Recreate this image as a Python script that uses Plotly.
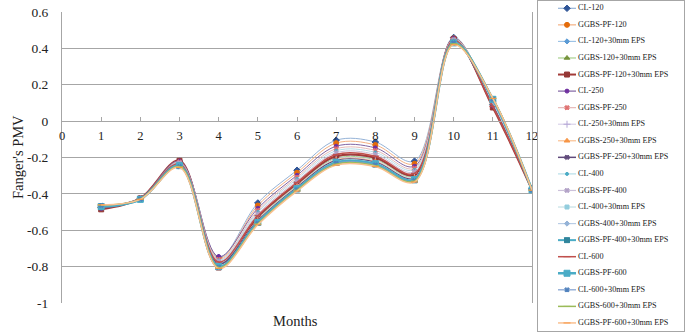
import plotly.graph_objects as go

months = [1, 2, 3, 4, 5, 6, 7, 8, 9, 10, 11, 12]

series_names = [
    "CL-120", "GGBS-PF-120", "CL-120+30mm EPS", "GGBS-120+30mm EPS", "GGBS-PF-120+30mm EPS",
    "CL-250", "GGBS-PF-250", "CL-250+30mm EPS", "GGBS-250+30mm EPS", "GGBS-PF-250+30mm EPS",
    "CL-400", "GGBS-PF-400", "CL-400+30mm EPS", "GGBS-400+30mm EPS", "GGBS-PF-400+30mm EPS",
    "CL-600", "GGBS-PF-600", "CL-600+30mm EPS", "GGBS-600+30mm EPS", "GGBS-PF-600+30mm EPS",
]

cl_120 =            [-0.475, -0.425, -0.220, -0.750, -0.450, -0.270, -0.105, -0.115, -0.220, 0.460, 0.090, -0.370]
ggbs_pf_120 =       [-0.470, -0.424, -0.225, -0.755, -0.464, -0.284, -0.121, -0.131, -0.234, 0.455, 0.100, -0.372]
cl_120_eps =        [-0.470, -0.426, -0.235, -0.780, -0.532, -0.348, -0.198, -0.207, -0.298, 0.445, 0.095, -0.374]
ggbs_120_eps =      [-0.468, -0.427, -0.240, -0.785, -0.536, -0.353, -0.204, -0.212, -0.303, 0.440, 0.100, -0.375]
ggbs_pf_120_eps =   [-0.485, -0.425, -0.218, -0.805, -0.527, -0.344, -0.193, -0.201, -0.294, 0.450, 0.075, -0.378]
cl_250 =            [-0.480, -0.423, -0.220, -0.745, -0.479, -0.298, -0.138, -0.147, -0.248, 0.455, 0.085, -0.372]
ggbs_pf_250 =       [-0.472, -0.425, -0.225, -0.760, -0.491, -0.309, -0.152, -0.161, -0.259, 0.450, 0.095, -0.373]
cl_250_eps =        [-0.470, -0.427, -0.240, -0.788, -0.541, -0.357, -0.209, -0.218, -0.307, 0.440, 0.105, -0.375]
ggbs_250_eps =      [-0.468, -0.428, -0.240, -0.790, -0.545, -0.361, -0.213, -0.222, -0.311, 0.440, 0.110, -0.376]
ggbs_pf_250_eps =   [-0.478, -0.426, -0.232, -0.785, -0.548, -0.364, -0.217, -0.226, -0.314, 0.435, 0.090, -0.376]
cl_400 =            [-0.470, -0.425, -0.230, -0.765, -0.500, -0.318, -0.163, -0.172, -0.268, 0.450, 0.100, -0.373]
ggbs_pf_400 =       [-0.468, -0.426, -0.230, -0.770, -0.510, -0.328, -0.174, -0.183, -0.278, 0.445, 0.105, -0.374]
cl_400_eps =        [-0.466, -0.428, -0.245, -0.795, -0.552, -0.368, -0.221, -0.230, -0.318, 0.435, 0.115, -0.377]
ggbs_400_eps =      [-0.466, -0.428, -0.245, -0.795, -0.554, -0.370, -0.224, -0.232, -0.320, 0.430, 0.115, -0.377]
ggbs_pf_400_eps =   [-0.468, -0.430, -0.245, -0.800, -0.559, -0.375, -0.230, -0.238, -0.325, 0.430, 0.120, -0.378]
cl_600 =            [-0.475, -0.424, -0.235, -0.775, -0.520, -0.337, -0.184, -0.193, -0.287, 0.445, 0.080, -0.376]
ggbs_pf_600 =       [-0.470, -0.430, -0.245, -0.800, -0.557, -0.372, -0.227, -0.235, -0.322, 0.430, 0.120, -0.378]
cl_600_eps =        [-0.464, -0.429, -0.250, -0.803, -0.562, -0.377, -0.232, -0.241, -0.327, 0.430, 0.120, -0.379]
ggbs_600_eps =      [-0.462, -0.429, -0.250, -0.805, -0.565, -0.380, -0.237, -0.245, -0.330, 0.425, 0.125, -0.379]
ggbs_pf_600_eps =   [-0.460, -0.430, -0.255, -0.810, -0.570, -0.385, -0.242, -0.250, -0.335, 0.420, 0.125, -0.380]

series_values = [
    cl_120, ggbs_pf_120, cl_120_eps, ggbs_120_eps, ggbs_pf_120_eps,
    cl_250, ggbs_pf_250, cl_250_eps, ggbs_250_eps, ggbs_pf_250_eps,
    cl_400, ggbs_pf_400, cl_400_eps, ggbs_400_eps, ggbs_pf_400_eps,
    cl_600, ggbs_pf_600, cl_600_eps, ggbs_600_eps, ggbs_pf_600_eps,
]

y_ticks = [-1, -0.8, -0.6, -0.4, -0.2, 0, 0.2, 0.4, 0.6]
y_tick_labels = ["-1", "-0.8", "-0.6", "-0.4", "-0.2", "0", "0.2", "0.4", "0.6"]
x_ticks = [0, 1, 2, 3, 4, 5, 6, 7, 8, 9, 10, 11, 12]

# style: (line colour, line width, marker colour, symbol, marker size)
styles = [
    ("#95B3D7", 1.0, "#2F5597", "diamond", 5),
    ("#F4B183", 1.0, "#E46C0A", "circle", 5),
    ("#9DC3E6", 1.0, "#5B9BD5", "diamond", 4),
    ("#A9D18E", 1.0, "#77933C", "triangle-up", 5),
    ("#A33B38", 2.0, "#953735", "square", 5),
    ("#8064A2", 1.0, "#7030A0", "circle", 4),
    ("#E6B9B8", 1.0, "#E07070", "x", 4),
    ("#D9D2E9", 1.0, "#B4A7D6", "cross-thin-open", 5),
    ("#FAC090", 1.0, "#F79646", "triangle-up", 5),
    ("#604A7B", 1.5, "#604A7B", "x", 4),
    ("#B7DEE8", 1.0, "#4BACC6", "circle", 3),
    ("#CCC1DA", 1.0, "#B2A1C7", "x", 4),
    ("#C5E0E6", 1.0, "#93CDDD", "square-x", 4),
    ("#B9CDE5", 1.0, "#95B3D7", "diamond", 4),
    ("#4BACC6", 2.0, "#31859C", "square-x", 5),
    ("#C0504D", 1.5, "#C0504D", "line-ew-open", 5),
    ("#4BACC6", 2.5, "#4BACC6", "square", 6),
    ("#7F9FD0", 1.0, "#4F81BD", "x", 4),
    ("#9BBB59", 1.5, "#9BBB59", "line-ew-open", 5),
    ("#FAC090", 1.5, "#F79646", "line-ew-open", 5),
]

W, H = 685, 333
L = 62                       # paper starts at x=62 px
PW = W - L - 1               # paper width in px
serif = "Liberation Serif, Times New Roman, serif"
grid = "#A6A6A6"
txt = "#222222"

def px_x(p):  # pixel x -> paper fraction
    return (p - L) / PW

def px_y(p):  # pixel y (from top) -> paper fraction
    return (H - p) / H

# main plot area: x 62..532, y 12..303
main_x0, main_x1 = px_x(62), px_x(532)
main_y0, main_y1 = px_y(303), px_y(12)
yr = (-1.0, 0.6)
zero_pos = main_y0 + (0 - yr[0]) / (yr[1] - yr[0]) * (main_y1 - main_y0)

fig = go.Figure()
for name, vals, st in zip(series_names, series_values, styles):
    lc, lw, mc, sym, ms = st
    fig.add_trace(go.Scatter(
        x=months, y=vals, name=name, mode="lines+markers", showlegend=False,
        line=dict(color=lc, width=lw, shape="spline", smoothing=1.0),
        marker=dict(color=mc, symbol=sym, size=ms, line=dict(color=mc, width=1)),
        xaxis="x", yaxis="y",
    ))

# legend drawn in its own small axes (one row per series, in order)
leg_line_x = [20, 38]
leg_mark_x = 29
leg_text_x = 40
rows = list(range(len(series_names)))
for i, (name, st) in enumerate(zip(series_names, styles)):
    lc, lw, mc, sym, ms = st
    fig.add_trace(go.Scatter(
        x=leg_line_x, y=[rows[i], rows[i]], mode="lines", showlegend=False, hoverinfo="skip",
        line=dict(color=lc, width=max(lw, 1.2)), xaxis="x2", yaxis="y2",
    ))
    fig.add_trace(go.Scatter(
        x=[leg_mark_x], y=[rows[i]], mode="markers", showlegend=False, hoverinfo="skip",
        marker=dict(color=mc, symbol=sym, size=ms, line=dict(color=mc, width=1)),
        xaxis="x2", yaxis="y2",
    ))
fig.add_trace(go.Scatter(
    x=[leg_text_x] * len(series_names), y=rows, text=series_names, mode="text",
    textposition="middle right", showlegend=False, hoverinfo="skip", cliponaxis=False,
    textfont=dict(family=serif, size=8.2, color=txt), xaxis="x2", yaxis="y2",
))

# legend rows: first centre at 8.3 px, spacing 16.56 px; box from y=1 to y=331
row0, rowh, box_top, box_bot = 8.3, 16.56, 1, 331
fig.update_layout(
    width=W, height=H,
    margin=dict(l=L, r=1, t=0, b=0, autoexpand=False),
    paper_bgcolor="white", plot_bgcolor="white",
    font=dict(family=serif, color=txt),
    showlegend=False,
    xaxis=dict(
        domain=[main_x0, main_x1],
        range=[0, 12], tickvals=x_ticks, ticktext=[str(v) for v in x_ticks],
        anchor="free", position=zero_pos,
        showgrid=False, zeroline=False,
        showline=True, linecolor=grid, linewidth=1,
        ticks="inside", ticklen=4, tickcolor=grid,
        ticklabelstandoff=3,
        tickfont=dict(family=serif, size=12.5, color=txt),
    ),
    yaxis=dict(
        domain=[main_y0, main_y1], anchor="x",
        range=list(yr), tickvals=y_ticks, ticktext=y_tick_labels,
        showgrid=True, gridcolor=grid, gridwidth=1,
        zeroline=False, showline=True, mirror=True, linecolor=grid, linewidth=1,
        ticks="", ticklabelstandoff=10,
        tickfont=dict(family=serif, size=13.5, color=txt),
    ),
    xaxis2=dict(
        domain=[px_x(538), px_x(684)], anchor="y2",
        range=[0, 146], visible=True, showticklabels=False, ticks="",
        showgrid=False, zeroline=False, showline=True, mirror=True,
        linecolor="#A6A6A6", linewidth=1,
    ),
    yaxis2=dict(
        domain=[px_y(box_bot), px_y(box_top)], anchor="x2",
        range=[(box_bot - row0) / rowh, (box_top - row0) / rowh],
        showticklabels=False, ticks="",
        showgrid=False, zeroline=False, showline=True, mirror=True,
        linecolor="#A6A6A6", linewidth=1,
    ),
    annotations=[
        dict(text="Fanger's PMV", xref="paper", yref="paper",
             x=px_x(18), y=px_y(157), xanchor="center", yanchor="middle",
             textangle=-90, showarrow=False,
             font=dict(family=serif, size=14.5, color=txt)),
        dict(text="Months", xref="paper", yref="paper",
             x=px_x(295), y=px_y(321), xanchor="center", yanchor="middle",
             showarrow=False,
             font=dict(family=serif, size=14.5, color=txt)),
    ],
)

fig.write_html("out.html", config={"displayModeBar": False},
               post_script="document.body.style.margin='0';")
